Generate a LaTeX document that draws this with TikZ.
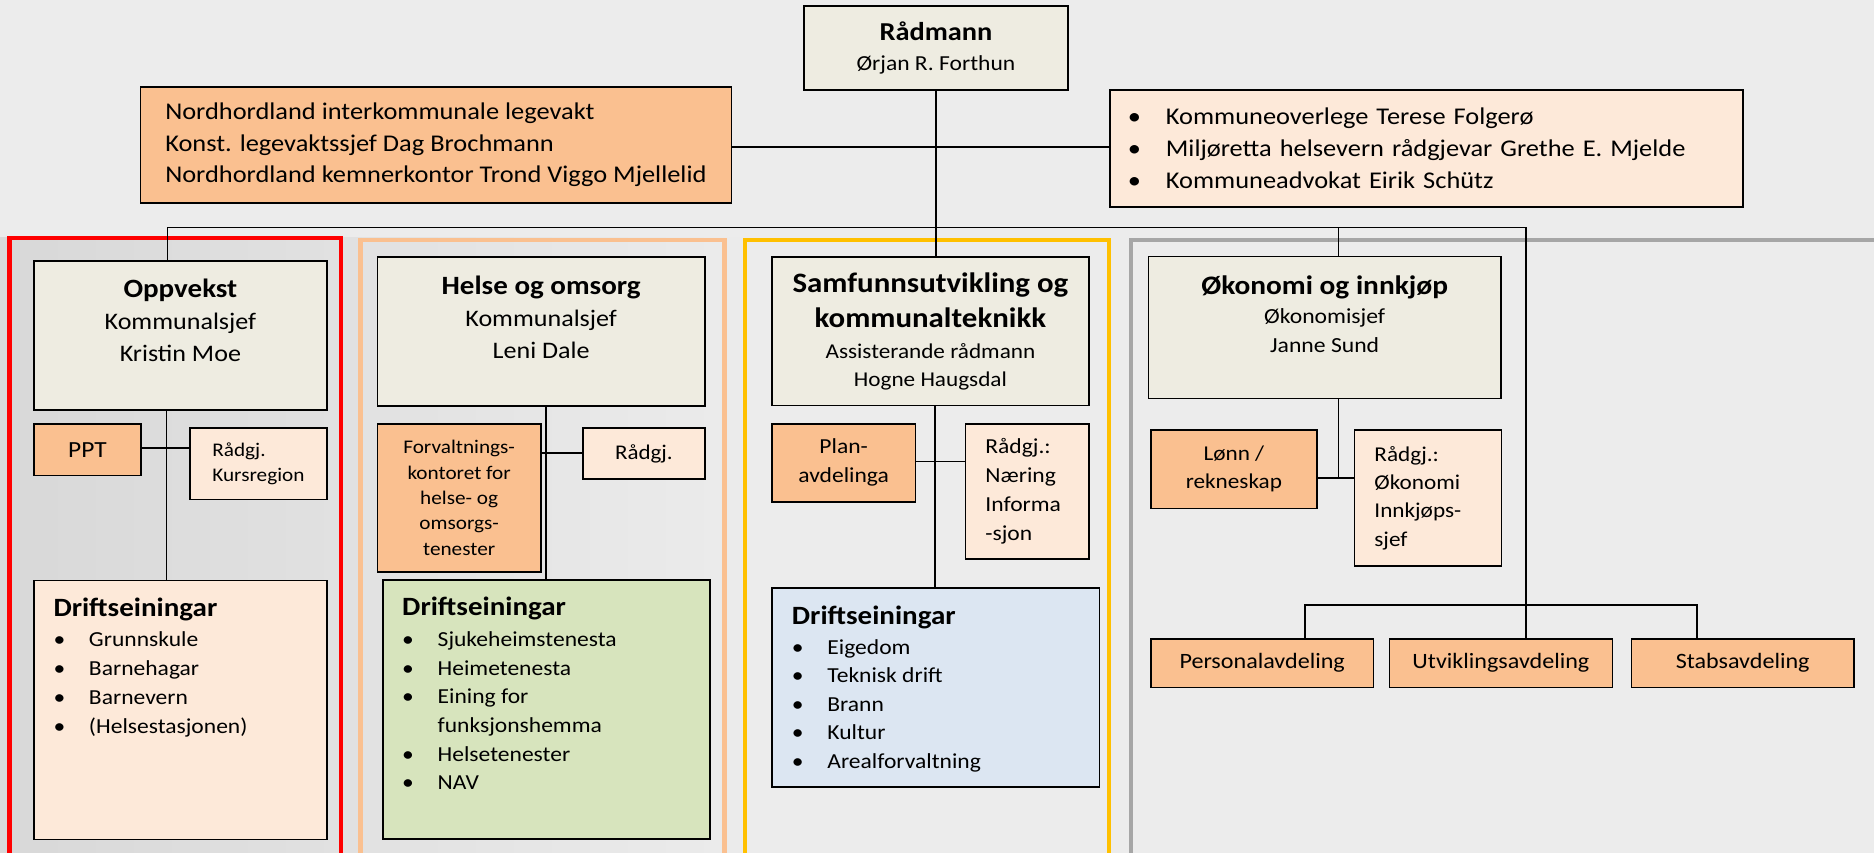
\documentclass[tikz,border=0pt]{standalone}
\usepackage{fontspec}
\setmainfont{Carlito}[FakeStretch=1.1]
\usetikzlibrary{positioning}
\definecolor{bakgrunn}{HTML}{ECECEC}
\definecolor{bakgrunnmork}{HTML}{D8D8D8}
\definecolor{leiar}{HTML}{EEECE1}
\definecolor{oransje}{HTML}{FAC090}
\definecolor{fersken}{HTML}{FDE9D9}
\definecolor{gronn}{HTML}{D7E4BD}
\definecolor{blaa}{HTML}{DCE6F2}
\definecolor{raud}{HTML}{FF0000}
\definecolor{laks}{HTML}{FAC090}
\definecolor{gul}{HTML}{FFC000}
\definecolor{graa}{HTML}{A6A6A6}
\newcommand{\fsz}[2]{\fontsize{#1}{#2}\selectfont}
\newcommand{\pkt}[2][35.5pt]{\makebox[#1][l]{\textbullet}#2}

\begin{document}
\begin{tikzpicture}[x=1pt, y=-1pt,
		orgbox/.style = {draw, line width=1.8pt, anchor=north west, inner sep=0pt},
		leiarbox/.style = {orgbox, fill=leiar},
		einbox/.style = {orgbox, fill=oransje},
		raadbox/.style = {orgbox, fill=fersken},
		ramme/.style = {line width=4.5pt},
		linje/.style = {line width=1.8pt},
		tekst/.style = {inner sep=0pt}]
	
	\useasboundingbox (0,0) rectangle (1874,853);
	\clip (0,0) rectangle (1874,853);
	
	% Background
	\fill[bakgrunn] (0,0) rectangle (1874,853);
	\shade[left color=bakgrunnmork, right color=bakgrunn] (0,238) rectangle (760,853);
	
	% Frames round the sectors
	\draw[ramme, raud] (9.5,238) rectangle (341,880);
	\draw[ramme, laks] (360.5,240) rectangle (724.5,880);
	\draw[ramme, gul] (745,240) rectangle (1109,880);
	\draw[ramme, graa] (1131,240) rectangle (1900,880);
	
	% Top
	\node[leiarbox, minimum width=264pt, minimum height=84pt, align=center, font=\fsz{21.4}{30.7}] (radm) at (803,5)
		{{\fsz{25.8}{30.7}\bfseries Rådmann}\\Ørjan R. Forthun};
	\node[einbox, minimum width=591pt, minimum height=116pt, align=left, font=\fsz{24}{31.8}] (nord) at (139.5,86)
		{Nordhordland interkommunale legevakt\\Konst. legevaktssjef Dag Brochmann\\Nordhordland kemnerkontor Trond Viggo Mjellelid};
	\node[raadbox, text width=597pt, inner xsep=18pt, minimum height=117pt, align=left, font=\fsz{24}{32}] (adv) at (1109,89)
		{\pkt[38pt]{Kommuneoverlege Terese Folgerø}\\\pkt[38pt]{Miljøretta helsevern rådgjevar Grethe E. Mjelde}\\\pkt[38pt]{Kommuneadvokat Eirik Schütz}};
	
	% Oppvekst
	\node[leiarbox, minimum width=293pt, minimum height=149pt] (opp) at (33,260) {};
	\node[tekst, below=19.2pt of opp.north, align=center, font=\fsz{23.7}{32}] (opptekst)
		{{\fsz{26.4}{32}\bfseries Oppvekst}\\Kommunalsjef\\Kristin Moe};
	\node[einbox, minimum width=107pt, minimum height=51.5pt, font=\fsz{23.1}{28}] (ppt) at (33,423) {PPT};
	\node[raadbox, minimum width=137pt, minimum height=71.5pt, align=left, font=\fsz{19.3}{25.4}] (kurs) at (189,427)
		{Rådgj.\\Kursregion};
	\node[raadbox, minimum width=293pt, minimum height=259pt] (oppd) at (33,579.5) {};
	\node[tekst, below right=17.8pt and 20.3pt of oppd.north west, anchor=north west, align=left, font=\fsz{21.4}{29}] (oppdtekst)
		{{\fsz{26.4}{29}\bfseries Driftseiningar}\\[1.7pt]\pkt{Grunnskule}\\\pkt{Barnehagar}\\\pkt{Barnevern}\\\pkt{(Helsestasjonen)}};
	
	% Helse og omsorg
	\node[leiarbox, minimum width=327.5pt, minimum height=149pt] (helse) at (376.5,256) {};
	\node[tekst, below=20.2pt of helse.north, align=center, font=\fsz{23.7}{32}] (helsetekst)
		{{\fsz{26.4}{32}\bfseries Helse og omsorg}\\Kommunalsjef\\Leni Dale};
	\node[einbox, minimum width=163.5pt, minimum height=148pt, align=center, font=\fsz{19.3}{25.4}] (forv) at (376.5,423)
		{Forvaltnings-\\kontoret for\\helse- og\\omsorgs-\\tenester};
	\node[raadbox, minimum width=122pt, minimum height=51pt, font=\fsz{20.9}{26}] (helr) at (582,427) {Rådgj.};
	\node[orgbox, fill=gronn, minimum width=327pt, minimum height=259pt] (helsed) at (382,579) {};
	\node[tekst, below right=18pt and 20pt of helsed.north west, align=left, font=\fsz{21.4}{28.7}] (helsedtekst)
		{{\fsz{26.4}{28.7}\bfseries Driftseiningar}\\[2pt]\pkt{Sjukeheimstenesta}\\\pkt{Heimetenesta}\\\pkt{Eining for}\\\hspace*{35.5pt}funksjonshemma\\\pkt{Helsetenester}\\\pkt{NAV}};
	
	% Samfunnsutvikling
	\node[leiarbox, minimum width=317pt, minimum height=148.5pt, align=center, font=\fsz{21.1}{27.7}] (samf) at (771,256)
		{{\fsz{28.1}{27.7}\bfseries Samfunnsutvikling og}\\[7.3pt]{\fsz{28.1}{27.7}\bfseries kommunalteknikk}\\[3.3pt]Assisterande rådmann\\Hogne Haugsdal};
	\node[einbox, minimum width=143.5pt, minimum height=78pt, align=center, font=\fsz{21.4}{29}] (plan) at (771,423)
		{Plan-\\avdelinga};
	\node[raadbox, text width=83.5pt, inner xsep=20pt, minimum height=135pt, align=left, font=\fsz{21.4}{29}] (naer) at (964.5,423)
		{Rådgj.:\\Næring\\Informa\\-sjon};
	\node[orgbox, fill=blaa, minimum width=327.5pt, minimum height=199pt] (samfd) at (771,587) {};
	\node[tekst, below right=18.3pt and 20.7pt of samfd.north west, align=left, font=\fsz{21.4}{28.6}] (samfdtekst)
		{{\fsz{26.4}{28.6}\bfseries Driftseiningar}\\[1.4pt]\pkt{Eigedom}\\\pkt{Teknisk drift}\\\pkt{Brann}\\\pkt{Kultur}\\\pkt{Arealforvaltning}};
	
	% Økonomi og innkjøp
	\node[leiarbox, minimum width=352.5pt, minimum height=142pt] (oko) at (1147.5,255.5) {};
	\node[tekst, below=20.5pt of oko.north, align=center, font=\fsz{21.5}{29}] (okotekst)
		{{\fsz{26.7}{29}\bfseries Økonomi og innkjøp}\\Økonomisjef\\Janne Sund};
	\node[einbox, minimum width=166pt, minimum height=78.5pt, align=center, font=\fsz{21.1}{28.3}] (lonn) at (1150,429)
		{Lønn /\\rekneskap};
	\node[raadbox, text width=107pt, inner xsep=20pt, minimum height=136pt, align=left, font=\fsz{21.1}{28.3}] (okr) at (1353.5,429)
		{Rådgj.:\\Økonomi\\Innkjøps-\\sjef};
	\node[einbox, minimum width=222.5pt, minimum height=48.5pt, font=\fsz{21.9}{26}] (pers) at (1150,638) {Personalavdeling};
	\node[einbox, minimum width=223pt, minimum height=48.5pt, font=\fsz{21.9}{26}] (utv) at (1388.5,638) {Utviklingsavdeling};
	\node[einbox, minimum width=222.5pt, minimum height=48.5pt, font=\fsz{21.9}{26}] (stab) at (1630.5,638) {Stabsavdeling};
	
	% Connectors
	\coordinate (busL) at (167.5,227.5);
	\coordinate (busR) at (1526,227.5);
	\coordinate (side) at (935,147);
	\draw[linje] (radm.south) -- (radm.south |- samf.north);
	\draw[linje] (nord.east |- side) -- (adv.west |- side);
	\draw[linje] (opp.north -| busL) -- (busL) -- (busR) -- (utv.north -| busR);
	
	\coordinate (oj) at (166.5,448);
	\draw[linje] (opp.south -| oj) -- (oppd.north -| oj);
	\draw[linje] (ppt.east |- oj) -- (kurs.west |- oj);
	
	\coordinate (hj) at (546,453);
	\draw[linje] (helse.south -| hj) -- (helsed.north -| hj);
	\draw[linje] (forv.east |- hj) -- (helr.west |- hj);
	
	\coordinate (sj) at (935,461.5);
	\draw[linje] (samf.south -| sj) -- (samfd.north -| sj);
	\draw[linje] (plan.east |- sj) -- (naer.west |- sj);
	
	\coordinate (okj) at (1338.5,478.3);
	\draw[linje] (okj |- busR) -- (oko.north -| okj);
	\draw[linje] (oko.south -| okj) -- (okj);
	\draw[linje] (lonn.east |- okj) -- (okr.west |- okj);
	
	\coordinate (sbL) at (1305,604.7);
	\coordinate (sbR) at (1697,604.7);
	\draw[linje] (pers.north -| sbL) -- (sbL) -- (sbR) -- (stab.north -| sbR);
	
\end{tikzpicture}
\end{document}
